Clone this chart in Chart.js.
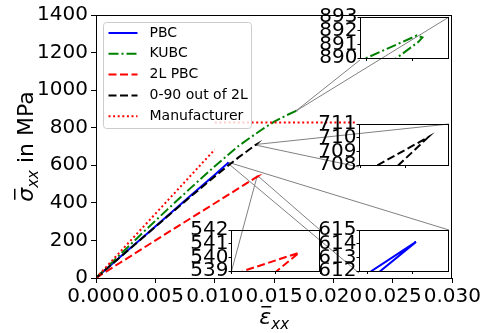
<!DOCTYPE html>
<html>
<head>
<meta charset="utf-8">
<script src="https://cdn.jsdelivr.net/npm/chart.js@4"></script>
<style>
  html, body { margin: 0; padding: 0; background: #fff; }
  #wrap { position: relative; width: 483px; height: 333px; }
  #wrap canvas { position: absolute; left: 0; top: 0; }
</style>
</head>
<body>
<div id="wrap">
  <canvas id="main" width="483" height="333"></canvas>
  <canvas id="zoomKubc"></canvas>
  <canvas id="zoomOut"></canvas>
  <canvas id="zoomPbc"></canvas>
  <canvas id="zoom2L"></canvas>
</div>
<script>
// stress-strain curves (strain, stress in MPa); the last points are the turn-back at the peak
const pbcStrain = [0, 0.002, 0.004, 0.006, 0.008, 0.010, 0.011104, 0.011154, 0.011114, 0.0111];
const pbcStress = [0, 110, 220, 330, 440, 550, 612, 614.13, 612, 611.4];

const kubcStrain = [0, 0.002, 0.004, 0.006, 0.008, 0.010, 0.012, 0.013, 0.014, 0.015, 0.016, 0.01685, 0.016905, 0.016911, 0.016907, 0.016883, 0.01687];
const kubcStress = [0, 123, 245, 364, 481, 595, 703, 748, 792, 832, 865, 890.0, 891.65, 891.5, 891.2, 890.0, 889.4];

const twoLStrain = [0, 0.002, 0.004, 0.006, 0.008, 0.010, 0.012, 0.013564, 0.0136265, 0.0136016, 0.01359];
const twoLStress = [0, 80, 160, 240, 319, 398, 477, 539.0, 540.34, 539.0, 538.4];

const outStrain = [0, 0.002, 0.004, 0.006, 0.008, 0.010, 0.012, 0.013419, 0.013475, 0.013442, 0.01343];
const outStress = [0, 109, 218, 327, 435, 541, 642, 708, 710.04, 708, 707.3];

// manufacturer: linear branch, then the strength level
const manufStrain = [0, 0.0100, 0.0100, 0.0100, 0.0219];
const manufStress = [0, 684, null, 828, 828];

const xTickValues = [0, 0.005, 0.010, 0.015, 0.020, 0.025, 0.030];
const yTickValues = [0, 200, 400, 600, 800, 1000, 1200, 1400];

const FONT = 'DejaVu Sans';

function series(label, strain, stress, color, dash, order) {
    return {
        label: label,
        data: strain.map((x, i) => ({ x: x, y: stress[i] })),
        borderColor: color,
        borderWidth: 2,
        borderDash: dash,
        borderCapStyle: 'butt',
        pointRadius: 0,
        fill: false,
        tension: 0,
        spanGaps: false,
        order: order
    };
}

function allSeries() {
    return [
        series('PBC', pbcStrain, pbcStress, '#0000ff', [], 5),
        series('KUBC', kubcStrain, kubcStress, '#008000', [10, 3, 2, 3], 4),
        series('2L PBC', twoLStrain, twoLStress, '#ff0000', [8, 3.5], 3),
        series('0-90 out of 2L', outStrain, outStress, '#000000', [8, 3.5], 2),
        series('Manufacturer', manufStrain, manufStress, '#ff0000', [2, 2.6], 1)
    ];
}

// zoomed views: box in page pixels, data window
const zooms = [
    { id: 'zoomKubc', box: { x: 360, y: 17, w: 89, h: 43 }, xMin: 0.016843, xMax: 0.016940, xTicks: [0.01685, 0.0169], yTicks: [890, 891, 892, 893] },
    { id: 'zoomOut', box: { x: 359, y: 124, w: 90, h: 43 }, xMin: 0.013398, xMax: 0.013498, xTicks: [0.0134, 0.01345], yTicks: [708, 709, 710, 711] },
    { id: 'zoomPbc', box: { x: 359, y: 230, w: 90, h: 43 }, xMin: 0.0110899, xMax: 0.0111911, xTicks: [0.0111, 0.01115], yTicks: [612, 613, 614, 615] },
    { id: 'zoom2L', box: { x: 231, y: 230, w: 89, h: 43 }, xMin: 0.01355, xMax: 0.01365, xTicks: [0.01355, 0.0136, 0.01365], yTicks: [539, 540, 541, 542] }
];

const framePlugin = {
    id: 'frame',
    afterDatasetsDraw(chart) {
        const a = chart.chartArea;
        const ctx = chart.ctx;
        ctx.save();
        ctx.strokeStyle = '#000';
        ctx.lineWidth = 1;
        ctx.strokeRect(Math.round(a.left) + 0.5, Math.round(a.top) + 0.5,
            Math.round(a.right - a.left) - 1, Math.round(a.bottom - a.top));
        ctx.restore();
    }
};

// lines from each zoomed window to its box
const connectorPlugin = {
    id: 'connectors',
    beforeDatasetsDraw(chart) {
        const sx = chart.scales.x, sy = chart.scales.y;
        const ctx = chart.ctx;
        ctx.save();
        ctx.strokeStyle = '#808080';
        ctx.lineWidth = 1;
        zooms.forEach(z => {
            const yMin = z.yTicks[0], yMax = z.yTicks[z.yTicks.length - 1];
            const l = sx.getPixelForValue(z.xMin), r = sx.getPixelForValue(z.xMax);
            const t = sy.getPixelForValue(yMax), b = sy.getPixelForValue(yMin);
            ctx.strokeRect(l, t, r - l, b - t);
            ctx.beginPath();
            ctx.moveTo(l, b);
            ctx.lineTo(z.box.x, z.box.y + z.box.h);
            ctx.moveTo(r, t);
            ctx.lineTo(z.box.x + z.box.w, z.box.y);
            ctx.stroke();
        });
        ctx.restore();
    }
};

const legendPlugin = {
    id: 'legendBox',
    afterDraw(chart) {
        const a = chart.chartArea;
        const ctx = chart.ctx;
        const x0 = a.left + 7.5, y0 = a.top + 7.5, w = 148, h = 106, r = 3;
        ctx.save();
        ctx.beginPath();
        ctx.roundRect(x0, y0, w, h, r);
        ctx.fillStyle = 'rgba(255,255,255,0.8)';
        ctx.fill();
        ctx.strokeStyle = '#cccccc';
        ctx.lineWidth = 1;
        ctx.stroke();
        ctx.font = '14px ' + FONT;
        ctx.textBaseline = 'middle';
        ctx.fillStyle = '#000';
        chart.data.datasets.forEach((ds, i) => {
            const y = y0 + 10.5 + i * 20.8;
            ctx.beginPath();
            ctx.strokeStyle = ds.borderColor;
            ctx.lineWidth = ds.borderWidth;
            ctx.setLineDash(ds.borderDash);
            ctx.moveTo(x0 + 5, y);
            ctx.lineTo(x0 + 34, y);
            ctx.stroke();
            ctx.setLineDash([]);
            ctx.fillText(ds.label, x0 + 46, y);
        });
        ctx.restore();
    }
};

// draws a run of text pieces (with optional overbar) centred on x
function drawRuns(ctx, runs, cx, baseY) {
    let total = 0;
    runs.forEach(p => { ctx.font = p.font; p.w = ctx.measureText(p.t).width; total += p.w; });
    let x = cx - total / 2;
    runs.forEach(p => {
        ctx.font = p.font;
        ctx.fillText(p.t, x, baseY + (p.dy || 0));
        if (p.bar) {
            ctx.fillRect(x + p.bar.x0, baseY - p.bar.h, p.w - p.bar.x0 - p.bar.x1, 1.5);
        }
        x += p.w;
    });
}

const titlePlugin = {
    id: 'axisTitles',
    afterDraw(chart) {
        const a = chart.chartArea;
        const ctx = chart.ctx;
        ctx.save();
        ctx.fillStyle = '#000';
        ctx.textBaseline = 'alphabetic';
        ctx.textAlign = 'left';
        drawRuns(ctx, [
            { t: 'ε', font: 'italic 22px ' + FONT, bar: { x0: 2, x1: 0, h: 18 } },
            { t: 'xx', font: 'italic 15px ' + FONT, dy: 5 }
        ], (a.left + a.right) / 2, 324);
        ctx.translate(33, (a.top + a.bottom) / 2);
        ctx.rotate(-Math.PI / 2);
        drawRuns(ctx, [
            { t: 'σ', font: 'italic 22px ' + FONT, bar: { x0: 2, x1: 1, h: 19 } },
            { t: 'xx', font: 'italic 15px ' + FONT, dy: 5 },
            { t: ' in MPa', font: '22px ' + FONT }
        ], 0, 0);
        ctx.restore();
    }
};

new Chart(document.getElementById('main'), {
    type: 'line',
    data: { datasets: allSeries() },
    options: {
        responsive: false,
        animation: false,
        layout: { padding: { left: 0, top: 12, right: 30, bottom: 0 } },
        plugins: { legend: { display: false }, tooltip: { enabled: false } },
        scales: {
            x: {
                type: 'linear',
                min: 0,
                max: 0.03,
                afterBuildTicks: s => { s.ticks = xTickValues.map(v => ({ value: v })); },
                ticks: { color: '#000', font: { family: FONT, size: 20 }, padding: 2, maxRotation: 0, autoSkip: false, callback: v => v.toFixed(3) },
                grid: { drawOnChartArea: false, drawTicks: true, tickLength: 5, color: '#000' },
                border: { display: false },
                afterFit: s => { s.height = 55; }
            },
            y: {
                type: 'linear',
                min: 0,
                max: 1400,
                afterBuildTicks: s => { s.ticks = yTickValues.map(v => ({ value: v })); },
                ticks: { color: '#000', font: { family: FONT, size: 20 }, padding: 3, autoSkip: false, callback: v => String(v) },
                grid: { drawOnChartArea: false, drawTicks: true, tickLength: 5, color: '#000' },
                border: { display: false },
                afterFit: s => { s.width = 96; }
            }
        }
    },
    plugins: [connectorPlugin, framePlugin, legendPlugin, titlePlugin]
});

zooms.forEach(z => {
    const padL = 50, padT = 12, padR = 4, padB = 10;
    const cv = document.getElementById(z.id);
    cv.width = z.box.w + padL + padR;
    cv.height = z.box.h + padT + padB;
    cv.style.left = (z.box.x - padL) + 'px';
    cv.style.top = (z.box.y - padT) + 'px';
    new Chart(cv, {
        type: 'line',
        data: { datasets: allSeries() },
        options: {
            responsive: false,
            animation: false,
            layout: { padding: { left: 0, top: padT, right: padR, bottom: 0 } },
            plugins: { legend: { display: false }, tooltip: { enabled: false } },
            scales: {
                x: {
                    type: 'linear',
                    min: z.xMin,
                    max: z.xMax,
                    afterBuildTicks: s => { s.ticks = z.xTicks.map(v => ({ value: v })); },
                    ticks: { display: false },
                    grid: { drawOnChartArea: false, drawTicks: true, tickLength: 3, color: '#000' },
                    border: { display: false },
                    afterFit: s => { s.height = padB; }
                },
                y: {
                    type: 'linear',
                    min: z.yTicks[0],
                    max: z.yTicks[z.yTicks.length - 1],
                    afterBuildTicks: s => { s.ticks = z.yTicks.map(v => ({ value: v })); },
                    ticks: { color: '#000', font: { family: FONT, size: 20 }, padding: 0, autoSkip: false, callback: v => String(v) },
                    grid: { drawOnChartArea: false, drawTicks: true, tickLength: 2.5, color: '#000' },
                    border: { display: false },
                    afterFit: s => { s.width = padL; }
                }
            }
        },
        plugins: [framePlugin]
    });
});
</script>
</body>
</html>
